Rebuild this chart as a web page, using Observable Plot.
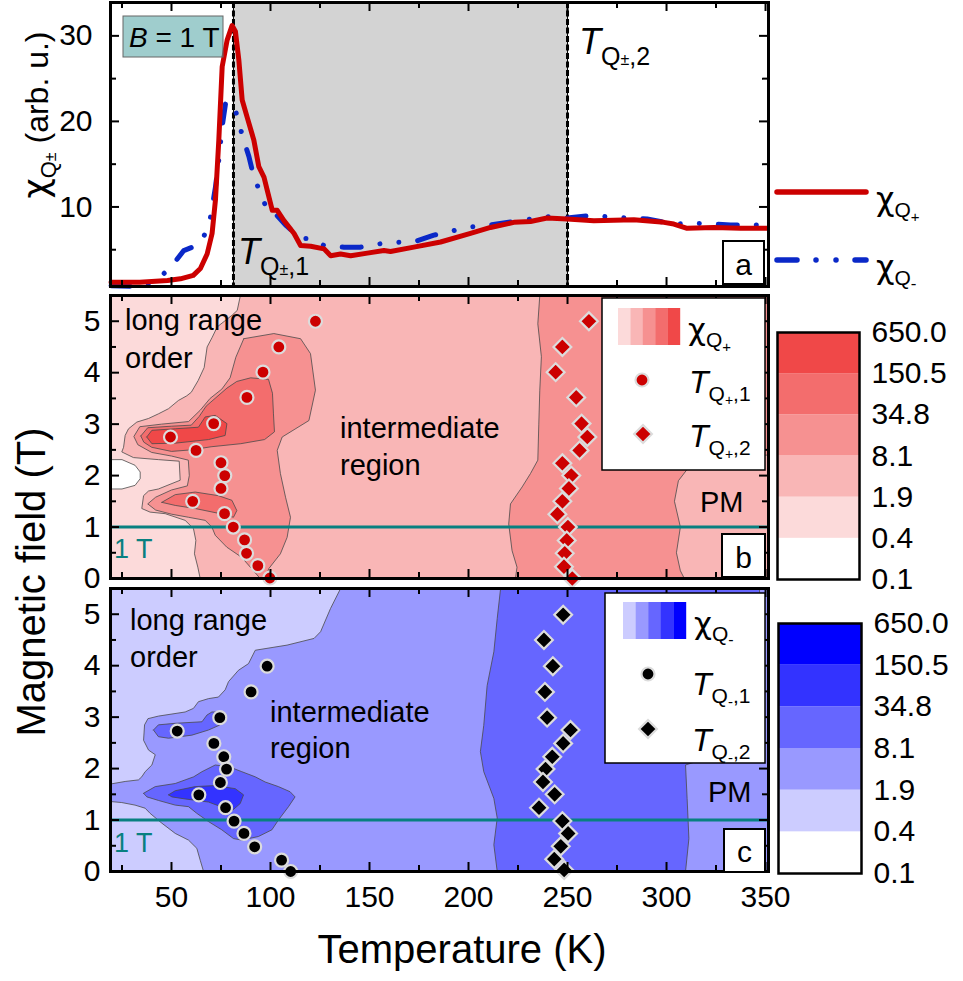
<!DOCTYPE html>
<html><head><meta charset="utf-8">
<script src="https://cdn.jsdelivr.net/npm/d3@7"></script>
<script src="https://cdn.jsdelivr.net/npm/@observablehq/plot@0.6"></script>
<style>
body{margin:0;background:#fff;}
#fig{position:relative;width:963px;height:981px;overflow:hidden;font-family:"Liberation Sans",Arial,Helvetica,sans-serif;}
#fig svg{position:absolute;}
</style></head><body><div id="fig"></div>
<script>
// ---------------- data ----------------
const tempDomain = [19.2, 351.5];
const tempTicks = [50, 100, 150, 200, 250, 300, 350];
const tempMinorTicks = [25, 75, 125, 175, 225, 275, 325];
const chiDomain = [0.7, 33.9];
const chiTicks = [10, 20, 30];
const chiMinorTicks = [5, 15, 25];
const fieldDomain = [0, 5.5];
const fieldTicks = [0, 1, 2, 3, 4, 5];
const fieldMinorTicks = [0.5, 1.5, 2.5, 3.5, 4.5];
const colorbarLabels = ["0.1", "0.4", "1.9", "8.1", "34.8", "150.5", "650.0"];
const redLevels = ["#ffffff", "#fcdada", "#f9b6b6", "#f69191", "#f36d6d", "#f04848"];
const blueLevels = ["#ffffff", "#ccccff", "#9999ff", "#6666ff", "#3333ff", "#0000ff"];
const transitionT = [81.3, 250];
const fieldLine = [1];

// panel a : chi_Q+ (red) and chi_Q- (blue) at B = 1 T
const chiPlus = [[19.5,1.2],[34,1.2],[48,1.4],[54.5,1.6],[61,2.0],[64.6,2.8],[68,4.5],[70.5,6.9],[72.2,10.8],[73.9,17.8],[75.6,26.4],[78.1,29.5],[80.6,31.2],[82.3,30.5],[84,27.2],[85.7,22.5],[88.2,20.5],[91.6,17.8],[94.1,14.7],[96.7,13.5],[98.4,11.9],[100.9,9.6],[103.4,9.6],[106.8,8.4],[111.9,6.9],[115.2,5.5],[120.3,5.4],[127,5.1],[130.4,4.3],[135.4,4.5],[140.5,4.3],[148.9,4.6],[157.3,4.9],[160.6,4.8],[172.4,5.3],[185.9,5.9],[201,6.9],[211.1,7.6],[222.9,8.2],[231.3,8.3],[239.7,8.7],[249.8,8.6],[263.3,8.4],[283.5,8.5],[298.7,8.2],[303.7,8.0],[310.4,7.5],[323.9,7.6],[337.4,7.5],[351,7.5]];
const chiMinus = [[19.5,0.8],[36,0.7],[46.1,2.2],[51.2,3.4],[56.2,4.9],[62.9,5.5],[66.3,6.5],[69.7,8.8],[72.2,12.3],[73.9,15.5],[75.6,19.4],[77.3,22.1],[81.5,22.1],[83.5,20.2],[86.5,17.8],[89.1,15.9],[91.6,13.5],[95,11.6],[98.4,9.6],[101.7,9.4],[108,7.8],[115.2,6.3],[120.3,6.3],[127,5.5],[137.1,5.3],[145.5,5.3],[155.6,5.7],[165.7,5.9],[172.4,5.9],[182.5,6.7],[199.3,7.6],[211.1,7.9],[222.9,8.3],[234.7,8.7],[241.4,8.9],[249.8,8.7],[261.6,9.0],[273.4,8.8],[290.2,8.6],[303.7,8.0],[313.8,8.1],[332.3,7.9],[351,7.9]];

// panel b : transition points (T, B)
const bT1 = [[122.7,5.0],[104.2,4.5],[96.2,4.01],[88.1,3.52],[71.3,3.01],[49.5,2.75],[62.4,2.49],[75,2.25],[76.9,2.0],[75,1.75],[60.7,1.5],[76.8,1.26],[81.2,1.0],[86.9,0.75],[87.9,0.49],[93.6,0.25],[99.7,0.01]];
const bT2 = [[260.8,5.0],[247.4,4.5],[244,4.01],[254.4,3.52],[257.1,3.01],[260,2.75],[256.1,2.49],[247.4,2.24],[251.9,2.0],[250.7,1.75],[247.4,1.5],[244.9,1.25],[250.2,1.0],[249.6,0.74],[248.6,0.49],[248.2,0.23],[252.4,0.0]];
// panel c : transition points (T, B)
const cT1 = [[98.3,3.99],[90.2,3.49],[74.4,2.99],[52.9,2.73],[71.4,2.49],[76.4,2.23],[77.8,1.99],[74.7,1.73],[63.8,1.49],[77.3,1.24],[81.6,0.98],[86.6,0.74],[92,0.48],[105.6,0.22],[110.2,0.0]];
const cT2 = [[247.8,4.99],[238.1,4.5],[242.6,3.99],[238.6,3.49],[239.7,2.99],[251.5,2.75],[247.8,2.49],[242.3,2.23],[238.9,1.99],[237.6,1.74],[243.5,1.5],[235.6,1.24],[247.4,0.98],[250.3,0.74],[246.6,0.49],[243.3,0.24],[248.3,0.03]];

const bLevel1 = [[19.2,5.5],[84.8,5.5],[83.2,5.21],[80.7,5.12],[73.1,4.89],[70.6,4.69],[68,4.5],[66.5,4.1],[63.5,3.85],[60,3.62],[57.7,3.55],[53.5,3.46],[48.5,3.30],[43.4,3.20],[38.4,3.11],[32.5,3.04],[28.3,2.91],[26.6,2.78],[25.8,2.55],[24.9,2.46],[30.8,2.35],[43.4,2.31],[53.9,2.28],[54.4,1.91],[43.4,1.74],[38.4,1.70],[35.9,1.61],[35.0,1.36],[39.2,1.29],[46.8,1.26],[56.9,1.13],[61.1,0.97],[62.3,0.74],[61.6,0.48],[63.3,0.22],[64.5,0],[19.2,0]];
const bLevel0 = [[19.2,2.31],[25,2.31],[31.6,2.2],[34.2,2.07],[34.2,1.94],[31.6,1.81],[25,1.74],[19.2,1.74]];
const bLevel3Blob = [[86.5,4.66],[101.7,4.76],[115.2,4.66],[120.2,4.37],[122.7,3.66],[119.4,3.07],[105.9,2.75],[103.4,2.49],[105,2.04],[107.6,1.58],[110.1,1.19],[108.4,0.80],[105,0.48],[99.1,0.19],[97.4,0],[94.8,0],[85.5,0.41],[77.9,0.61],[72.1,0.84],[70.4,1.0],[67,1.13],[58.6,1.19],[50,1.25],[42,1.33],[38,1.45],[42,1.58],[50,1.72],[58,1.8],[59,2.0],[58.5,2.3],[50,2.38],[40,2.45],[33,2.6],[31,2.76],[34,2.95],[45,3.0],[58.6,3.05],[64.5,3.27],[69.5,3.5],[75.4,3.68],[79.6,3.9],[82.5,4.3]];
const bLevel3Band = [[236,5.5],[235,4.95],[236.8,4.31],[236,3.66],[235.5,3.0],[235,2.30],[231.3,2.04],[227.1,1.78],[221.2,1.45],[220.3,1.06],[222,0.54],[224.5,0.22],[223.7,0],[309,0],[307,0.15],[305,0.5],[307,1.0],[304,1.5],[306,1.9],[312,2.2],[330,2.35],[351.5,2.4],[351.5,5.5]];
const bLevel4Upper = [[34.5,2.77],[38,2.93],[50,2.96],[60,2.98],[64,3.15],[67.5,3.35],[72,3.5],[78,3.7],[83,3.83],[90,3.9],[99,3.87],[101,3.6],[101.5,3.2],[102,2.85],[97,2.7],[85,2.62],[70,2.56],[60,2.5],[50,2.47],[40,2.55],[36,2.65]];
const bLevel4Lower = [[45.1,1.48],[51.9,1.63],[62,1.68],[73.7,1.61],[80.5,1.52],[83,1.32],[81.3,1.19],[74.6,1.26],[62,1.36],[51.9,1.42]];
const bLevel5 = [[37.5,2.75],[40.1,2.88],[51.9,2.91],[63.6,2.94],[67,3.14],[72.1,3.17],[78,3.01],[77.1,2.78],[68.7,2.70],[51.9,2.63],[40.1,2.62]];

// panel c : contour regions (T, B)
const cLevel1Top = [[19.2,5.5],[135.4,5.5],[130.3,5.11],[125.3,4.66],[122,4.53],[108.4,4.40],[92.3,4.30],[88.9,4.04],[83.8,3.91],[78.8,3.69],[77.1,3.53],[73.7,3.39],[68.7,3.36],[63.6,3.30],[61.1,3.17],[56.9,3.10],[43.4,3.02],[38.1,2.97],[36.4,2.85],[35.9,2.55],[38.4,2.36],[41.8,2.27],[40.1,2.07],[36.7,1.94],[35,1.84],[33.3,1.78],[26.6,1.75],[19.2,1.70]];
const cLevel1Bottom = [[19.2,1.36],[24.9,1.34],[31.6,1.29],[36.7,1.23],[39.2,1.13],[45.1,0.94],[51.9,0.74],[58.6,0.61],[62.8,0.45],[64.5,0.22],[66.2,0],[19.2,0]];
const cLevel3Tongue = [[40.9,2.75],[43.4,2.85],[51.9,2.88],[65.4,2.91],[67.9,3.04],[70.4,3.10],[76.3,3.10],[77.1,2.97],[74.6,2.85],[68.7,2.75],[60.3,2.65],[48.5,2.59],[43.4,2.62]];
const cLevel3Blob = [[35.9,1.52],[41.8,1.65],[51.9,1.71],[61.2,1.84],[65.4,1.94],[72.1,2.07],[78.8,2.04],[85.5,1.94],[92.3,1.84],[97.3,1.74],[104,1.65],[109.9,1.55],[112.4,1.45],[109.1,1.26],[104,1.0],[100.7,0.81],[93.9,0.68],[85.5,0.61],[81.3,0.64],[75.4,0.81],[68.7,0.97],[62.8,1.13],[58.6,1.26],[51.9,1.29],[43.5,1.38],[37.6,1.45]];
const cLevel4 = [[48.5,1.49],[51.9,1.57],[62,1.65],[72.1,1.67],[82.2,1.61],[86.4,1.49],[84.7,1.32],[80.5,1.18],[77.1,1.23],[68.7,1.35],[56.9,1.41],[50.2,1.45]];
const cLevel3Band = [[216.2,5.5],[214.5,4.92],[212.8,4.27],[209.4,3.61],[207.7,2.84],[206,2.33],[207.7,1.94],[212.8,1.42],[214.5,1.04],[212.8,0.52],[214.5,0],[309.6,0],[311.3,0.64],[310.4,1.42],[309.6,2.07],[320,2.2],[338,2.6],[346,3.5],[347,5.5]];

// ---------------- helpers ----------------
const FONT = "'Liberation Sans', Arial, Helvetica, sans-serif";
const GREEK = "'DejaVu Sans', 'Liberation Sans', sans-serif";
const fig = document.getElementById("fig");
const xy = {x: d => d[0], y: d => d[1]};
const closed = a => a.concat([a[0]]);
const region = (poly, fill) => Plot.line(closed(poly), {...xy, fill, stroke: "#4a4a4a", strokeWidth: 0.8, strokeLinejoin: "round"});
const FW = 658, FH = 283;
const DOT_R = 6.5, DIA_R = 8;
function tickMarks(fh, yMaj, yMin) {
  const s = {stroke: "black", strokeWidth: 2};
  return [
    Plot.ruleX(tempTicks, {x: d => d, insetTop: fh - 9, ...s}),
    Plot.ruleX(tempTicks, {x: d => d, insetBottom: fh - 9, ...s}),
    Plot.ruleX(tempMinorTicks, {x: d => d, insetTop: fh - 6, ...s}),
    Plot.ruleX(tempMinorTicks, {x: d => d, insetBottom: fh - 6, ...s}),
    Plot.ruleY(yMaj, {y: d => d, insetRight: FW - 9, ...s}),
    Plot.ruleY(yMaj, {y: d => d, insetLeft: FW - 9, ...s}),
    Plot.ruleY(yMin, {y: d => d, insetRight: FW - 6, ...s}),
    Plot.ruleY(yMin, {y: d => d, insetLeft: FW - 6, ...s})
  ];
}
const baseStyle = {fontFamily: FONT, fontSize: "30px", background: "transparent", overflow: "visible", color: "black"};
function place(svg, left, top) { svg.style.position = "absolute"; svg.style.left = left + "px"; svg.style.top = top + "px"; svg.style.maxWidth = "none"; fig.appendChild(svg); }

// ---------------- panel a ----------------
const plotA = Plot.plot({
  width: 963, height: 290, marginLeft: 110, marginRight: 195, marginTop: 2, marginBottom: 4,
  style: baseStyle,
  x: {domain: tempDomain, axis: null},
  y: {domain: chiDomain, ticks: chiTicks, tickFormat: d3.format("d"), tickSize: 0, tickPadding: 18, label: null},
  marks: [
    Plot.rect([transitionT], {x1: d => d[0], x2: d => d[1], y1: () => chiDomain[0], y2: () => chiDomain[1], fill: "#d3d3d3"}),
    Plot.ruleX(transitionT, {x: d => d, stroke: "black", strokeWidth: 1}),
    Plot.ruleX(transitionT, {x: d => d, stroke: "black", strokeWidth: 3, strokeDasharray: "6,2.5"}),
    Plot.line(chiMinus, {...xy, stroke: "#0a28c8", strokeWidth: 5, strokeLinecap: "round", strokeDasharray: "19,19,0.01,19,0.01,19"}),
    Plot.line(chiPlus, {...xy, stroke: "#cc0000", strokeWidth: 5}),
    ...tickMarks(284, chiTicks, chiMinorTicks),
    Plot.frame({stroke: "black", strokeWidth: 3})
  ]
});
place(plotA, 0, 0);

// ---------------- panel b ----------------
const plotB = Plot.plot({
  width: 963, height: 291, marginLeft: 110, marginRight: 195, marginTop: 5, marginBottom: 3,
  style: baseStyle,
  x: {domain: tempDomain, axis: null},
  y: {domain: fieldDomain, ticks: fieldTicks, tickFormat: d3.format("d"), tickSize: 0, tickPadding: 10, label: null},
  marks: [
    Plot.frame({fill: redLevels[2], stroke: "none"}),
    region(bLevel1, redLevels[1]),
    region(bLevel0, redLevels[0]),
    region(bLevel3Blob, redLevels[3]),
    region(bLevel3Band, redLevels[3]),
    region(bLevel4Upper, redLevels[4]),
    region(bLevel4Lower, redLevels[4]),
    region(bLevel5, redLevels[5]),
    Plot.ruleY(fieldLine, {y: d => d, stroke: "#088080", strokeWidth: 3}),
    Plot.dot(bT1, {...xy, r: DOT_R, fill: "#cc0000", stroke: "#dcdcdc", strokeWidth: 2.2}),
    Plot.dot(bT2, {...xy, r: DIA_R, symbol: "diamond2", fill: "#cc0000", stroke: "#dcdcdc", strokeWidth: 2.2}),
    ...tickMarks(FH, fieldTicks, fieldMinorTicks),
    Plot.frame({stroke: "black", strokeWidth: 3})
  ]
});
place(plotB, 0, 290);

// ---------------- panel c ----------------
const plotC = Plot.plot({
  width: 963, height: 400, marginLeft: 110, marginRight: 195, marginTop: 7, marginBottom: 110,
  style: baseStyle,
  x: {domain: tempDomain, ticks: tempTicks, tickFormat: d3.format("d"), tickSize: 0, tickPadding: 14, label: null},
  y: {domain: fieldDomain, ticks: fieldTicks, tickFormat: d3.format("d"), tickSize: 0, tickPadding: 10, label: null},
  marks: [
    Plot.frame({fill: blueLevels[2], stroke: "none"}),
    region(cLevel1Top, blueLevels[1]),
    region(cLevel1Bottom, blueLevels[1]),
    region(cLevel3Tongue, blueLevels[3]),
    region(cLevel3Blob, blueLevels[3]),
    region(cLevel3Band, blueLevels[3]),
    region(cLevel4, blueLevels[4]),
    Plot.ruleY(fieldLine, {y: d => d, stroke: "#088080", strokeWidth: 3}),
    Plot.dot(cT1, {...xy, r: DOT_R, fill: "black", stroke: "#dcdcdc", strokeWidth: 2.2}),
    Plot.dot(cT2, {...xy, r: DIA_R, symbol: "diamond2", fill: "black", stroke: "#dcdcdc", strokeWidth: 2.2}),
    ...tickMarks(FH, fieldTicks, fieldMinorTicks),
    Plot.frame({stroke: "black", strokeWidth: 3})
  ]
});
place(plotC, 0, 581);

// ---------------- colour bars ----------------
function colorbar(levels, opts) {
  return Plot.plot({
    width: 203, height: opts.height, marginLeft: opts.ml, marginRight: opts.mr, marginTop: opts.mt, marginBottom: opts.mb,
    style: baseStyle,
    color: {type: "identity"},
    x: {domain: [0, 1], axis: null},
    y: {domain: [0, 6], ticks: d3.range(7), tickFormat: i => colorbarLabels[i], axis: "right", tickSize: 0, tickPadding: 12, label: null},
    marks: [
      Plot.rect(levels, {x1: 0, x2: 1, y1: (d, i) => i, y2: (d, i) => i + 1, fill: d => d}),
      Plot.frame({stroke: "black", strokeWidth: 2.5})
    ]
  });
}
place(colorbar(redLevels, {height: 275, ml: 17, mr: 104, mt: 12, mb: 16}), 760, 320);
place(colorbar(blueLevels, {height: 290, ml: 18, mr: 102, mt: 13, mb: 27}), 760, 610);

// ---------------- annotations overlay ----------------
const ov = d3.create("svg").attr("width", 963).attr("height", 981)
  .style("left", "0px").style("top", "0px").style("pointer-events", "none")
  .attr("font-family", FONT);
fig.appendChild(ov.node());
function label(x, y, parts, o = {}) {
  const g = ov.append("g").attr("transform", `translate(${x},${y}) rotate(${o.rotate || 0})`);
  const t = g.append("text").attr("text-anchor", o.anchor || "start").attr("fill", o.fill || "black").style("white-space", "pre");
  for (const p of parts) {
    const ts = t.append("tspan").text(p.t).attr("font-size", p.s || 30);
    if (p.dy) ts.attr("dy", p.dy);
    if (p.i) ts.attr("font-style", "italic");
    if (p.t === "χ") ts.attr("font-family", GREEK);
  }
}
function box(x, y, w, h, o = {}) {
  ov.append("rect").attr("x", x).attr("y", y).attr("width", w).attr("height", h)
    .attr("fill", o.fill || "white").attr("fill-opacity", o.op == null ? 1 : o.op)
    .attr("stroke", o.stroke || "black").attr("stroke-width", o.sw || 2);
}
const diamondPath = d3.symbol(d3.symbolDiamond2, Math.PI * DIA_R * DIA_R)();

// axis titles
label(48, 115, [{t: "χ", s: 35}, {t: "Q", s: 22, dy: 8}, {t: "±", s: 16}, {t: " (arb. u.)", s: 32, dy: -8}], {anchor: "middle", rotate: -90});
label(45, 582, [{t: "Magnetic field (T)", s: 40}], {anchor: "middle", rotate: -90});
label(462, 963, [{t: "Temperature (K)", s: 40}], {anchor: "middle"});

// panel a annotations
box(123, 16, 100, 41, {fill: "#3f9c9c", op: 0.5, stroke: "#666", sw: 1});
label(129, 47, [{t: "B", s: 28, i: true}, {t: " = 1 T", s: 28}]);
label(238, 264, [{t: "T", s: 36, i: true}, {t: "Q", s: 25, dy: 11}, {t: "±", s: 16}, {t: ",1", s: 25}]);
label(579, 54, [{t: "T", s: 36, i: true}, {t: "Q", s: 25, dy: 11}, {t: "±", s: 16}, {t: ",2", s: 25}]);
box(723, 241, 41, 43); label(743.5, 275, [{t: "a", s: 30}], {anchor: "middle"});
// panel a legend
ov.append("line").attr("x1", 777).attr("x2", 866).attr("y1", 192).attr("y2", 192).attr("stroke", "#cc0000").attr("stroke-width", 5.5).attr("stroke-linecap", "round");
ov.append("line").attr("x1", 777).attr("x2", 866).attr("y1", 260).attr("y2", 260).attr("stroke", "#0a28c8").attr("stroke-width", 5.5).attr("stroke-linecap", "round").attr("stroke-dasharray", "20,19,0.01,20,0.01,19");
label(876, 210, [{t: "χ", s: 32}, {t: "Q", s: 21, dy: 7}, {t: "+", s: 15, dy: 5}]);
label(876, 278, [{t: "χ", s: 32}, {t: "Q", s: 21, dy: 7}, {t: "-", s: 17, dy: 4}]);

// panel b annotations
label(125, 330, [{t: "long range", s: 29}]);
label(125, 368, [{t: "order", s: 29}]);
label(340, 438, [{t: "intermediate", s: 29}]);
label(340, 475, [{t: "region", s: 29}]);
label(700, 512, [{t: "PM", s: 29}]);
label(114, 558, [{t: "1 T", s: 27}], {fill: "#088080"});
box(722, 534, 43, 43); label(743.5, 568, [{t: "b", s: 30}], {anchor: "middle"});
box(602, 298, 163, 172, {sw: 1.5});
redLevels.slice(1).forEach((c, i) => ov.append("rect").attr("x", 618 + i * 12.4).attr("y", 308).attr("width", 12.6).attr("height", 37).attr("fill", c));
label(688, 340, [{t: "χ", s: 31}, {t: "Q", s: 21, dy: 7}, {t: "+", s: 15, dy: 5}]);
ov.append("circle").attr("cx", 642).attr("cy", 380).attr("r", DOT_R).attr("fill", "#cc0000").attr("stroke", "#dcdcdc").attr("stroke-width", 2.2);
ov.append("path").attr("d", diamondPath).attr("transform", "translate(643,434)").attr("fill", "#cc0000").attr("stroke", "#dcdcdc").attr("stroke-width", 2.2);
label(689, 393, [{t: "T", s: 32, i: true}, {t: "Q", s: 21, dy: 8}, {t: "+", s: 14, dy: 4}, {t: ",1", s: 21, dy: -4}]);
label(689, 447, [{t: "T", s: 32, i: true}, {t: "Q", s: 21, dy: 8}, {t: "+", s: 14, dy: 4}, {t: ",2", s: 21, dy: -4}]);

// panel c annotations
label(130, 630, [{t: "long range", s: 29}]);
label(130, 667, [{t: "order", s: 29}]);
label(270, 722, [{t: "intermediate", s: 29}]);
label(270, 758, [{t: "region", s: 29}]);
label(708, 802, [{t: "PM", s: 29}]);
label(114, 852, [{t: "1 T", s: 27}], {fill: "#088080"});
box(724, 829, 41, 43); label(744.5, 862, [{t: "c", s: 30}], {anchor: "middle"});
box(605, 593, 160, 170, {sw: 1.5});
blueLevels.slice(1).forEach((c, i) => ov.append("rect").attr("x", 623 + i * 12.6).attr("y", 602).attr("width", 12.8).attr("height", 37).attr("fill", c));
label(694, 634, [{t: "χ", s: 31}, {t: "Q", s: 21, dy: 7}, {t: "-", s: 16, dy: 4}]);
ov.append("circle").attr("cx", 648).attr("cy", 674).attr("r", DOT_R).attr("fill", "black").attr("stroke", "#dcdcdc").attr("stroke-width", 2.2);
ov.append("path").attr("d", diamondPath).attr("transform", "translate(648,729)").attr("fill", "black").attr("stroke", "#dcdcdc").attr("stroke-width", 2.2);
label(692, 695, [{t: "T", s: 32, i: true}, {t: "Q", s: 21, dy: 8}, {t: "-", s: 15, dy: 4}, {t: ",1", s: 21, dy: -4}]);
label(692, 751, [{t: "T", s: 32, i: true}, {t: "Q", s: 21, dy: 8}, {t: "-", s: 15, dy: 4}, {t: ",2", s: 21, dy: -4}]);
</script></body></html>
